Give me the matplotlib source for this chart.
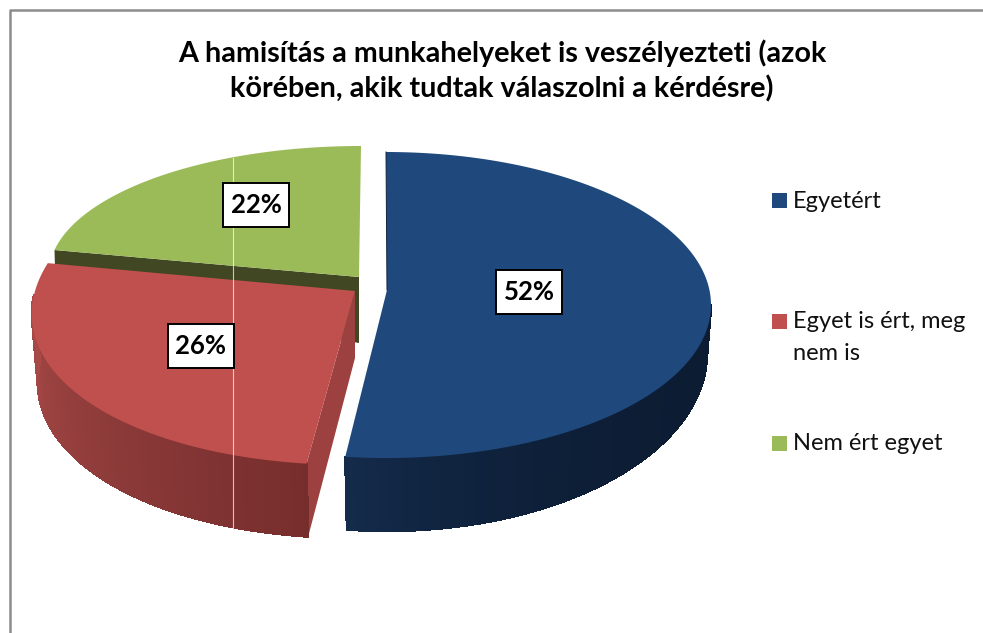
import numpy as np
import matplotlib
matplotlib.use("Agg")
from matplotlib import pyplot as plt
from matplotlib.colors import to_rgb
from matplotlib.patches import Polygon, Rectangle
from matplotlib.collections import PolyCollection

plt.rcParams['font.family'] = ['Lato', 'DejaVu Sans']

# Data
title_lines = ["A hamisítás a munkahelyeket is veszélyezteti (azok",
               "körében, akik tudtak válaszolni a kérdésre)"]
categories = [["Egyetért"], ["Egyet is ért, meg", "nem is"], ["Nem ért egyet"]]
shares = [52, 26, 22]

colors = ["#1f497d", "#c0504d", "#9bbb59"]

# top and bottom rim of every exploded slice, in pixels: cx, cy, rx, ry, shear
top_rim = [(386, 305, 325, 153, 0), (391, 295, 357, 170, 40), (361, 274, 312, 128, 0)]
bottom_rim = [(387, 353, 320, 178, 0), (392, 362, 352, 176, 40), None]
apex = [(387, 290), (355, 291), (359, 277)]
apex_bottom = [None, (355, 358), (359, 343)]
wall_from = [(90, "#0c1c33"), (270, "#a84a48"), None]
wall_to = ["#142b4b", "#762e2d", None]
wall_curve = [3.0, 1.0, None]
label_pos = [(529, 292), (201, 346), (256, 205)]
legend_y = [193, 314, 436]


def rim(params, deg):
    cx, cy, rx, ry, sh = params
    t = np.radians(deg)
    return cx + rx * np.sin(t) + sh * np.cos(t), cy - ry * np.cos(t)


fig = plt.figure(figsize=(9.83, 6.33), dpi=100)
ax = fig.add_axes([0, 0, 1, 1])
ax.set_xlim(0, 983)
ax.set_ylim(633, 0)
ax.axis("off")

# chart frame, only top and left show
ax.plot([983, 10, 10], [10, 10, 633], color="#8c8c8c", lw=1.8, zorder=1)

edges = np.cumsum([0] + shares) / 100 * 360

# green first, red sits on top of its cut wall
for i in [2, 1, 0]:
    a0, a1 = edges[i], edges[i + 1]
    rx0, ry0 = rim(top_rim[i], a0)

    if i == 2:
        ax.add_patch(Polygon([(rx0, ry0), apex[i], apex_bottom[i], (rx0 + 1, ry0 + 40)],
                             closed=True, fc="#414723", ec="none", zorder=2))
    if i == 1:
        bx, by = rim(bottom_rim[i], a0)
        ax.add_patch(Polygon([apex[i], (rx0, ry0), (bx, by), apex_bottom[i]],
                             closed=True, fc="#9c4140", ec="none", zorder=2))

    if bottom_rim[i] is not None:
        start = wall_from[i][0]
        lo, hi = (start, a1) if i == 0 else (a0, start)
        ang = np.linspace(lo, hi, 90)
        tx, ty = rim(top_rim[i], ang)
        bx, by = rim(bottom_rim[i], ang)
        c0 = np.array(to_rgb(wall_from[i][1]))
        c1 = np.array(to_rgb(wall_to[i]))
        quads, cols = [], []
        for k in range(len(ang) - 1):
            quads.append([(tx[k], ty[k]), (tx[k + 1], ty[k + 1]), (bx[k + 1], by[k + 1]), (bx[k], by[k])])
            f = (ang[k] - start) / (a1 - start) if i == 0 else (start - ang[k]) / (start - a0)
            cols.append(c0 + (c1 - c0) * f ** wall_curve[i])
        ax.add_collection(PolyCollection(quads, facecolors=cols, edgecolors=cols, linewidths=1.0,
                                         antialiaseds=False, zorder=3))

    ang = np.linspace(a0, a1, 200)
    px, py = rim(top_rim[i], ang)
    pts = [apex[i]] + list(zip(px, py))
    ax.add_patch(Polygon(pts, closed=True, fc=colors[i], ec="none", zorder=4))

# thin dark seam on the straight top edge of the blue slice
sx, sy = rim(top_rim[0], edges[0])
ax.plot([sx, apex[0][0]], [sy, apex[0][1]], color="#10233f", lw=0.7, zorder=5)

# thin light line running through the left part of the pie
ax.plot([233, 233], [158, 528], color="#ffffff", lw=0.8, alpha=0.7, zorder=5)

# data labels
for i in range(3):
    x, y = label_pos[i]
    ax.add_patch(Rectangle((x - 33, y - 22), 66, 44, fc="white", ec="black", lw=1.4, zorder=6))
    ax.text(x, y, "%d%%" % shares[i], ha="center", va="center", fontsize=18.5,
            fontweight="bold", color="black", zorder=7)

# legend
for i in range(3):
    ax.add_patch(Rectangle((772, legend_y[i]), 15, 15, fc=colors[i], ec="none", zorder=6))
    for j, line in enumerate(categories[i]):
        ax.text(793, legend_y[i] + 14.5 + 31.5 * j, line, ha="left", va="baseline",
                fontsize=17, color="#111111", zorder=7)

for j, line in enumerate(title_lines):
    ax.text(502, 62 + 35.5 * j, line, ha="center", va="baseline", fontsize=20.7,
            fontweight="bold", color="black")

plt.savefig("out.png", dpi=100)
